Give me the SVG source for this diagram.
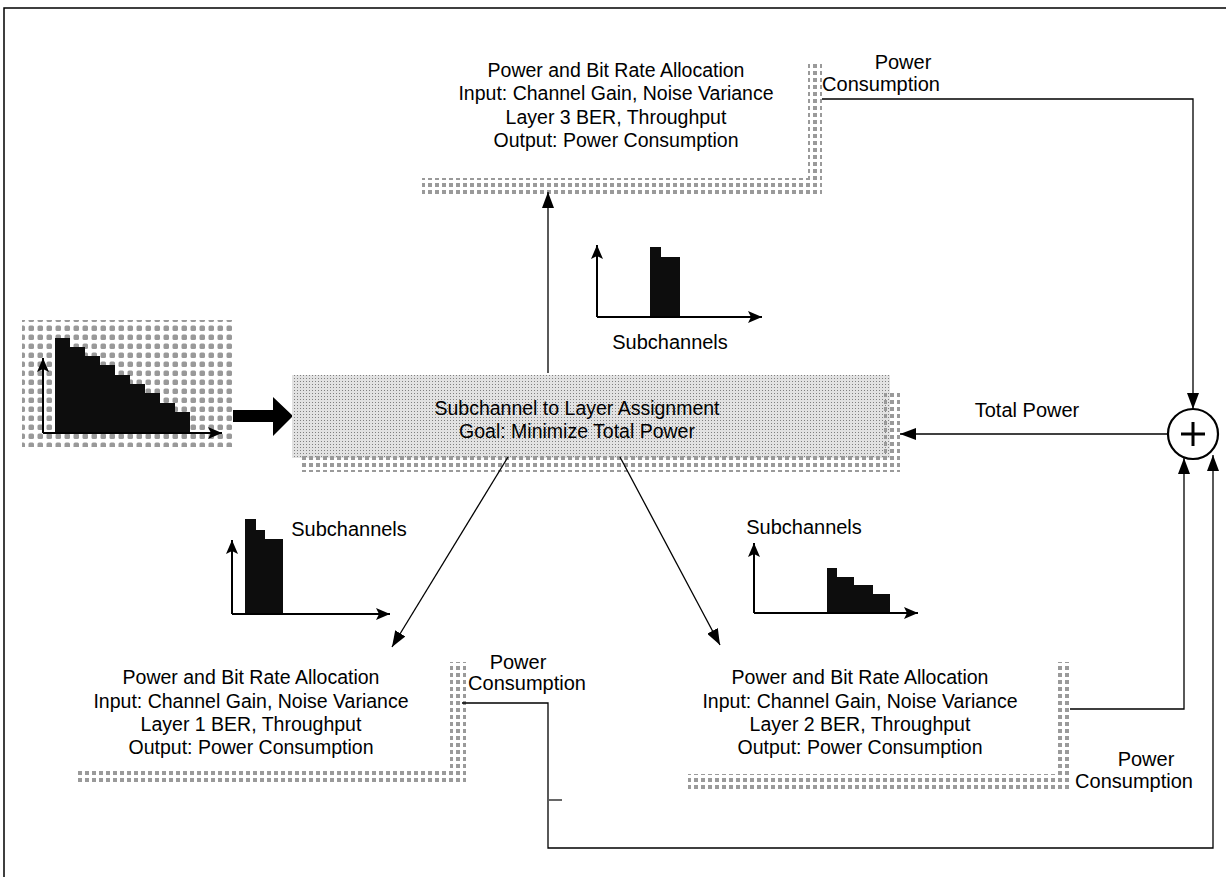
<svg xmlns="http://www.w3.org/2000/svg" width="1226" height="877" viewBox="0 0 1226 877">
<defs>
<pattern id="band" width="7" height="7" patternUnits="userSpaceOnUse">
<rect x="1" y="1" width="4" height="4" fill="#9a9a9a"/>
</pattern>
<pattern id="fine" width="3" height="3" patternUnits="userSpaceOnUse">
<rect width="3" height="3" fill="#e2e2e2"/>
<rect x="0" y="0" width="1" height="1" fill="#808080"/>
</pattern>
<pattern id="blot" width="9" height="9" patternUnits="userSpaceOnUse">
<rect x="1.5" y="1.5" width="5.5" height="5.5" rx="1.5" fill="#999"/>
</pattern>
<marker id="ah" markerUnits="userSpaceOnUse" markerWidth="16" markerHeight="12" refX="16" refY="6" orient="auto">
<path d="M0,0 L16,6 L0,12 z" fill="#000"/>
</marker>
<marker id="ax" markerUnits="userSpaceOnUse" markerWidth="14" markerHeight="12" refX="14" refY="6" orient="auto">
<path d="M0,0 L14,6 L0,12 L3,6 z" fill="#000"/>
</marker>
</defs>
<style>
text{font-family:"Liberation Sans",Arial,sans-serif;fill:#000;}
.bx{font-size:19.5px;text-anchor:middle;}
.lb{font-size:20px;text-anchor:middle;}
.cn{fill:none;stroke:#000;stroke-width:1.3;}
.axis{fill:none;stroke:#000;stroke-width:2;}
.bar{fill:#0d0d0d;}
</style>

<path d="M4,880 V8 H1230" fill="none" stroke="#000" stroke-width="1.5"/>

<g id="input-spectrum">
<rect x="22" y="320" width="211" height="127" fill="url(#blot)"/>
<rect class="bar" x="55" y="338" width="15" height="95"/>
<rect class="bar" x="70" y="347" width="15" height="86"/>
<rect class="bar" x="85" y="356" width="15" height="77"/>
<rect class="bar" x="100" y="365" width="15" height="68"/>
<rect class="bar" x="115" y="375" width="15" height="58"/>
<rect class="bar" x="130" y="384" width="15" height="49"/>
<rect class="bar" x="145" y="393" width="15" height="40"/>
<rect class="bar" x="160" y="403" width="15" height="30"/>
<rect class="bar" x="175" y="412" width="15" height="21"/>
<path class="axis" d="M43,433 V358" marker-end="url(#ax)"/>
<path class="axis" d="M43,433 H222" marker-end="url(#ax)"/>
</g>

<g id="thick-arrow">
<path d="M233,410 H273 V397 L293,416 L273,436 V422 H233 z" fill="#000"/>
</g>

<g id="assignment">
<rect x="292" y="375" width="598" height="83" fill="url(#fine)"/>
<rect x="300" y="456" width="600" height="16" fill="url(#band)"/>
<rect x="884" y="390" width="16" height="82" fill="url(#band)"/>
<text class="bx" x="577" y="415">Subchannel to Layer Assignment</text>
<text class="bx" x="577" y="438">Goal: Minimize Total Power</text>
</g>

<g id="alloc-layer3">
<rect x="422" y="178" width="400" height="17" fill="url(#band)"/>
<rect x="808" y="62" width="14" height="133" fill="url(#band)"/>
<text class="bx" x="616" y="77">Power and Bit Rate Allocation</text>
<text class="bx" x="616" y="100">Input: Channel Gain, Noise Variance</text>
<text class="bx" x="616" y="124">Layer 3 BER, Throughput</text>
<text class="bx" x="616" y="147">Output: Power Consumption</text>
</g>

<g id="alloc-layer1">
<rect x="76" y="770" width="390" height="15" fill="url(#band)"/>
<rect x="450" y="662" width="16" height="123" fill="url(#band)"/>
<text class="bx" x="251" y="684">Power and Bit Rate Allocation</text>
<text class="bx" x="251" y="708">Input: Channel Gain, Noise Variance</text>
<text class="bx" x="251" y="731">Layer 1 BER, Throughput</text>
<text class="bx" x="251" y="754">Output: Power Consumption</text>
</g>

<g id="alloc-layer2">
<rect x="688" y="774" width="383" height="15" fill="url(#band)"/>
<rect x="1055" y="662" width="16" height="127" fill="url(#band)"/>
<text class="bx" x="860" y="684">Power and Bit Rate Allocation</text>
<text class="bx" x="860" y="708">Input: Channel Gain, Noise Variance</text>
<text class="bx" x="860" y="731">Layer 2 BER, Throughput</text>
<text class="bx" x="860" y="754">Output: Power Consumption</text>
</g>

<g id="spectrum-layer3">
<rect class="bar" x="650" y="247" width="11" height="70"/>
<rect class="bar" x="661" y="257" width="19" height="60"/>
<path class="axis" d="M597,317 V245" marker-end="url(#ax)"/>
<path class="axis" d="M597,317 H762" marker-end="url(#ax)"/>
<text class="lb" x="670" y="349">Subchannels</text>
</g>

<g id="spectrum-layer1">
<rect class="bar" x="245" y="519" width="11" height="95"/>
<rect class="bar" x="256" y="530" width="9" height="84"/>
<rect class="bar" x="265" y="539" width="18" height="75"/>
<path class="axis" d="M232,614 V540" marker-end="url(#ax)"/>
<path class="axis" d="M232,614 H390" marker-end="url(#ax)"/>
<text class="lb" x="349" y="536">Subchannels</text>
</g>

<g id="spectrum-layer2">
<rect class="bar" x="827" y="568" width="10" height="45"/>
<rect class="bar" x="837" y="577" width="17" height="36"/>
<rect class="bar" x="854" y="585" width="19" height="28"/>
<rect class="bar" x="873" y="594" width="17" height="19"/>
<path class="axis" d="M754,613 V543" marker-end="url(#ax)"/>
<path class="axis" d="M754,613 H918" marker-end="url(#ax)"/>
<text class="lb" x="804" y="534">Subchannels</text>
</g>

<g id="sum">
<circle cx="1193" cy="434" r="25" fill="#fff" stroke="#000" stroke-width="2.2"/>
<path d="M1181,434 H1205 M1193,422 V446" stroke="#000" stroke-width="3"/>
</g>

<g id="connectors">
<path class="cn" d="M548,373 V192" marker-end="url(#ah)"/>
<path class="cn" d="M508,457 L392,647" marker-end="url(#ah)"/>
<path class="cn" d="M620,457 L720,645" marker-end="url(#ah)"/>
<path class="cn" d="M822,99 H1193 V409" marker-end="url(#ah)"/>
<path class="cn" d="M1168,434 H900" marker-end="url(#ah)"/>
<path class="cn" d="M462,703 H548 V848 H1213 V455" marker-end="url(#ah)"/>
<path class="cn" d="M1070,709 H1184 V458" marker-end="url(#ah)"/>
<path d="M549,800 H562" stroke="#000" stroke-width="1.2"/>
</g>

<g id="labels">
<text class="lb" x="903" y="69">Power</text>
<text class="lb" x="881" y="91">Consumption</text>
<text class="lb" x="1027" y="417">Total Power</text>
<text class="lb" x="518" y="669">Power</text>
<text class="lb" x="527" y="690">Consumption</text>
<text class="lb" x="1146" y="766">Power</text>
<text class="lb" x="1134" y="788">Consumption</text>
</g>
</svg>
